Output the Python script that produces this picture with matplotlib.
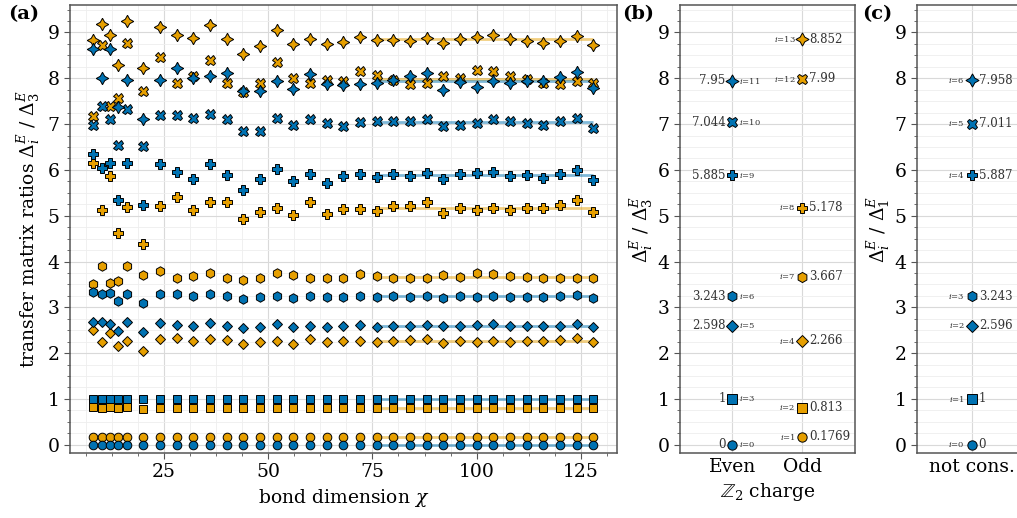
import matplotlib.pyplot as plt
from matplotlib.ticker import MultipleLocator

plt.rcParams['font.family'] = 'DejaVu Serif'
plt.rcParams['mathtext.fontset'] = 'dejavuserif'

BLUE = '#0072B2'
ORANGE = '#E69F00'

# bond dimensions
chi = [8, 10, 12, 14, 16, 20, 24, 28, 32, 36, 40, 44, 48, 52, 56, 60, 64,
       68, 72, 76, 80, 84, 88, 92, 96, 100, 104, 108, 112, 116, 120, 124, 128]

# ratios Delta_i / Delta_3 for each level i
r0 = [0.0] * 33
r1 = [0.177] * 33
r2 = [0.82, 0.81, 0.82, 0.81, 0.82, 0.79, 0.81, 0.81, 0.81, 0.81, 0.81, 0.81, 0.81,
      0.81, 0.81, 0.81, 0.81, 0.81, 0.81, 0.81, 0.81, 0.81, 0.81, 0.81, 0.81, 0.81,
      0.81, 0.81, 0.81, 0.81, 0.81, 0.81, 0.81]
r3 = [1.0] * 33
r4 = [2.51, 2.25, 2.43, 2.16, 2.27, 2.05, 2.30, 2.32, 2.27, 2.30, 2.29, 2.20, 2.25,
      2.27, 2.20, 2.30, 2.24, 2.27, 2.27, 2.25, 2.27, 2.29, 2.31, 2.23, 2.27, 2.25,
      2.27, 2.25, 2.27, 2.27, 2.29, 2.32, 2.24]
r5 = [2.69, 2.67, 2.64, 2.48, 2.69, 2.47, 2.65, 2.61, 2.59, 2.65, 2.59, 2.54, 2.58,
      2.63, 2.56, 2.59, 2.56, 2.59, 2.61, 2.58, 2.60, 2.59, 2.61, 2.59, 2.60, 2.61,
      2.63, 2.59, 2.60, 2.59, 2.60, 2.63, 2.58]
r6 = [3.33, 3.29, 3.32, 3.14, 3.30, 3.09, 3.29, 3.29, 3.25, 3.29, 3.25, 3.18, 3.22,
      3.25, 3.21, 3.25, 3.22, 3.23, 3.25, 3.23, 3.25, 3.23, 3.25, 3.21, 3.25, 3.23,
      3.25, 3.23, 3.23, 3.23, 3.25, 3.27, 3.21]
r7 = [3.50, 3.90, 3.52, 3.57, 3.90, 3.70, 3.80, 3.63, 3.68, 3.76, 3.63, 3.59, 3.65,
      3.76, 3.70, 3.63, 3.65, 3.65, 3.72, 3.69, 3.65, 3.63, 3.63, 3.70, 3.67, 3.74,
      3.72, 3.69, 3.67, 3.63, 3.65, 3.65, 3.65]
r8 = [6.16, 5.12, 5.86, 4.63, 5.18, 4.38, 5.21, 5.40, 5.13, 5.30, 5.29, 4.92, 5.07,
      5.16, 5.01, 5.29, 5.03, 5.14, 5.14, 5.10, 5.21, 5.21, 5.30, 5.05, 5.16, 5.12,
      5.17, 5.12, 5.16, 5.16, 5.23, 5.34, 5.07]
r9 = [6.34, 6.04, 6.14, 5.34, 6.15, 5.23, 6.12, 5.96, 5.81, 6.12, 5.88, 5.57, 5.81,
      6.03, 5.75, 5.90, 5.71, 5.87, 5.92, 5.85, 5.90, 5.86, 5.94, 5.81, 5.92, 5.93,
      5.95, 5.87, 5.88, 5.83, 5.90, 5.99, 5.79]
r10 = [6.99, 7.40, 7.12, 6.55, 7.33, 6.52, 7.19, 7.19, 7.13, 7.23, 7.12, 6.85, 6.85,
       7.14, 6.99, 7.10, 7.02, 6.95, 7.04, 7.06, 7.06, 7.06, 7.10, 6.95, 6.99, 7.02,
       7.10, 7.06, 7.03, 6.99, 7.06, 7.14, 6.91]
r11 = [8.64, 8.01, 8.64, 7.37, 7.97, 7.12, 7.97, 8.23, 8.01, 8.06, 8.12, 7.73, 7.73,
       7.93, 7.77, 8.10, 7.88, 7.86, 7.88, 7.89, 7.97, 8.04, 8.11, 7.75, 7.92, 7.82,
       7.93, 7.89, 7.94, 7.93, 8.02, 8.14, 7.79]
r12 = [7.17, 8.73, 7.40, 7.57, 8.77, 7.72, 8.46, 7.89, 8.04, 8.40, 7.89, 7.71, 7.89,
       8.35, 8.00, 7.89, 7.97, 7.95, 8.16, 8.08, 7.97, 7.88, 7.90, 8.04, 8.01, 8.17,
       8.15, 8.06, 7.99, 7.89, 7.88, 7.95, 7.89]
r13 = [8.84, 9.19, 8.95, 8.28, 9.24, 8.22, 9.13, 8.95, 8.88, 9.17, 8.86, 8.53, 8.71,
       9.06, 8.75, 8.85, 8.75, 8.80, 8.91, 8.84, 8.84, 8.81, 8.87, 8.77, 8.86, 8.90,
       8.95, 8.85, 8.82, 8.77, 8.82, 8.93, 8.73]

# extrapolated values (panel b)
even_idx = [0, 3, 5, 6, 9, 10, 11]
even_val = [0, 1, 2.598, 3.243, 5.885, 7.044, 7.95]
even_lbl = ['0', '1', '2.598', '3.243', '5.885', '7.044', '7.95']
odd_idx = [1, 2, 4, 7, 8, 12, 13]
odd_val = [0.1769, 0.813, 2.266, 3.667, 5.178, 7.99, 8.852]
odd_lbl = ['0.1769', '0.813', '2.266', '3.667', '5.178', '7.99', '8.852']

# panel c, no symmetry
nc_idx = [0, 1, 2, 3, 4, 5, 6]
nc_val = [0, 1, 2.596, 3.243, 5.887, 7.011, 7.958]
nc_lbl = ['0', '1', '2.596', '3.243', '5.887', '7.011', '7.958']

markers = ['o', 's', 'D', 'h', 'P', 'X', (4, 1, 0)]
msizes = [6.2, 6.2, 5.6, 6.8, 7.2, 7.2, 9]

even_series = [r0, r3, r5, r6, r9, r10, r11]
odd_series = [r1, r2, r4, r7, r8, r12, r13]

fig = plt.figure(figsize=(10.17, 5.18), dpi=100)
axa = fig.add_axes([0.0688, 0.1255, 0.5379, 0.8649])
axb = fig.add_axes([0.6686, 0.1255, 0.1721, 0.8649])
axc = fig.add_axes([0.9014, 0.1255, 0.1082, 0.8649])


def style(ax):
    ax.set_ylim(-0.18, 9.6)
    ax.yaxis.set_major_locator(MultipleLocator(1))
    ax.yaxis.set_minor_locator(MultipleLocator(0.25))
    ax.grid(True, which='major', color='#d9d9d9', lw=0.8, zorder=0)
    ax.grid(True, which='minor', color='#eeeeee', lw=0.6, zorder=0)
    ax.set_axisbelow(True)
    for s in ax.spines.values():
        s.set_color('#555555')
        s.set_linewidth(1.1)
    ax.tick_params(which='both', direction='out', color='#555555', labelsize=13.5,
                   top=False, right=False)
    ax.tick_params(which='major', length=4)
    ax.tick_params(which='minor', length=2.5)


# panel (a)
for k in range(7):
    for ser, col, fits in ((odd_series[k], ORANGE, odd_val[k]), (even_series[k], BLUE, even_val[k])):
        axa.hlines(fits, 76, 128, color=col, alpha=0.5, lw=2, zorder=2)
        axa.plot(chi, ser, ls='none', marker=markers[k], ms=msizes[k], mfc=col,
                 mec='black', mew=0.7, zorder=3)
style(axa)
axa.set_xlim(2.4, 133.7)
axa.xaxis.set_minor_locator(MultipleLocator(6.25))
axa.set_xticks([25, 50, 75, 100, 125])
axa.set_xlabel(r'bond dimension $\chi$', fontsize=13.5)
axa.set_ylabel(r'transfer matrix ratios $\Delta_i^E$ / $\Delta_3^E$', fontsize=13.5, labelpad=4)

# panel (b)
for k in range(7):
    axb.plot([0], [even_val[k]], ls='none', marker=markers[k], ms=msizes[k] + 0.5,
             mfc=BLUE, mec='black', mew=0.7, zorder=3)
    axb.annotate(even_lbl[k], (0, even_val[k]), xytext=(-5, 0), textcoords='offset points',
                 ha='right', va='center', fontsize=8.5, color='#333333')
    axb.annotate(f'$i$={even_idx[k]}', (0, even_val[k]), xytext=(5, 0), textcoords='offset points',
                 ha='left', va='center', fontsize=6, color='#333333')
    axb.plot([1], [odd_val[k]], ls='none', marker=markers[k], ms=msizes[k] + 0.5,
             mfc=ORANGE, mec='black', mew=0.7, zorder=3)
    axb.annotate(odd_lbl[k], (1, odd_val[k]), xytext=(5, 0), textcoords='offset points',
                 ha='left', va='center', fontsize=8.5, color='#333333')
    axb.annotate(f'$i$={odd_idx[k]}', (1, odd_val[k]), xytext=(-5, 0), textcoords='offset points',
                 ha='right', va='center', fontsize=6, color='#333333')
style(axb)
axb.set_xlim(-0.75, 1.75)
axb.set_xticks([0, 1])
axb.set_xticklabels(['Even', 'Odd'])
axb.tick_params(axis='x', which='major', length=0)
axb.set_xlabel(r'$\mathbb{Z}_2$ charge', fontsize=13.5)
axb.set_ylabel(r'$\Delta_i^E$ / $\Delta_3^E$', fontsize=13.5, labelpad=2)

# panel (c)
for k in range(7):
    axc.plot([0], [nc_val[k]], ls='none', marker=markers[k], ms=msizes[k] + 0.5,
             mfc=BLUE, mec='black', mew=0.7, zorder=3)
    axc.annotate(nc_lbl[k], (0, nc_val[k]), xytext=(5, 0), textcoords='offset points',
                 ha='left', va='center', fontsize=8.5, color='#333333')
    axc.annotate(f'$i$={nc_idx[k]}', (0, nc_val[k]), xytext=(-5, 0), textcoords='offset points',
                 ha='right', va='center', fontsize=6, color='#333333')
style(axc)
axc.set_xlim(-0.5, 0.5)
axc.set_xticks([0])
axc.set_xticklabels(['not cons.'])
axc.tick_params(axis='x', which='major', length=0)
axc.set_ylabel(r'$\Delta_i^E$ / $\Delta_1^E$', fontsize=13.5, labelpad=2)

fig.text(0.008, 0.99, '(a)', fontsize=14, fontweight='bold', ha='left', va='top')
fig.text(0.612, 0.99, '(b)', fontsize=14, fontweight='bold', ha='left', va='top')
fig.text(0.848, 0.99, '(c)', fontsize=14, fontweight='bold', ha='left', va='top')

fig.savefig('out.png', dpi=100)
